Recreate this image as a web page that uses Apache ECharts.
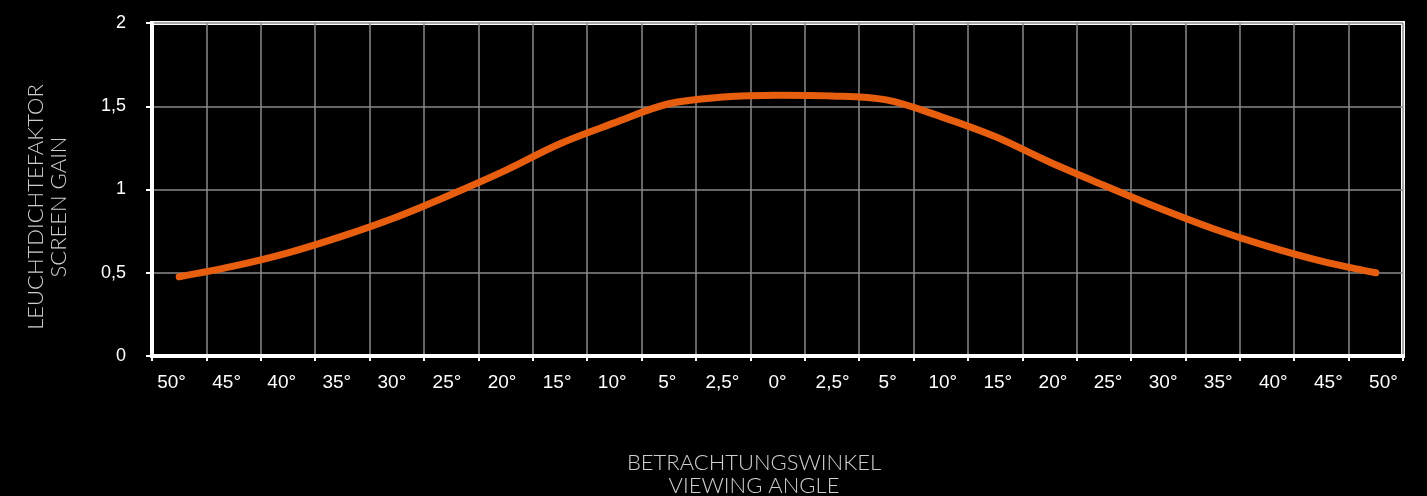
<!DOCTYPE html>
<html>
<head>
<meta charset="utf-8">
<script src="https://cdn.jsdelivr.net/npm/echarts@6/dist/echarts.min.js"></script>
<style>
  html, body { margin: 0; padding: 0; background: #000; }
  #main { width: 1427px; height: 496px; }
</style>
</head>
<body>
<div id="main"></div>
<script>
// viewing angles, left to right
const angles = ['50°', '45°', '40°', '35°', '30°', '25°', '20°', '15°', '10°', '5°', '2,5°', '0°',
  '2,5°', '5°', '10°', '15°', '20°', '25°', '30°', '35°', '40°', '45°', '50°']
// screen gain per angle
const gain = [0.476, 0.54, 0.62, 0.72, 0.835, 0.97, 1.115, 1.275, 1.40, 1.515, 1.555, 1.566,
  1.562, 1.538, 1.438, 1.318, 1.165, 1.025, 0.89, 0.766, 0.66, 0.57, 0.50]
const yTicks = [0, 0.5, 1, 1.5, 2]

const labelFont = 'Liberation Sans, Arial, sans-serif'
const nameFont = 'Lato, Open Sans, sans-serif'

let myChart = echarts.init(document.getElementById('main'))
myChart.setOption({
  backgroundColor: '#000',
  animation: false,
  grid: [
    { left: 152, right: 24, top: 23, bottom: 140, show: true, borderColor: '#fff', borderWidth: 4 },
    // only carries the angle labels
    { left: 144, right: 16, top: 23, bottom: 140 }
  ],
  xAxis: [
    {
      type: 'category',
      gridIndex: 0,
      data: angles,
      boundaryGap: true,
      axisLine: { lineStyle: { color: '#fff', width: 4 } },
      axisTick: { show: true, length: 5, lineStyle: { color: '#fff', width: 2 } },
      axisLabel: { show: false },
      splitLine: { show: true, lineStyle: { color: '#8a8a8a', width: 1.5 } }
    },
    {
      type: 'category',
      gridIndex: 1,
      data: angles,
      boundaryGap: true,
      axisLine: { show: false },
      axisTick: { show: false },
      splitLine: { show: false },
      axisLabel: { color: '#fff', fontSize: 19, fontFamily: labelFont, margin: 17, interval: 0 }
    }
  ],
  yAxis: [
    {
      type: 'value',
      gridIndex: 0,
      min: yTicks[0],
      max: yTicks[yTicks.length - 1],
      interval: 0.5,
      axisLine: { show: true, lineStyle: { color: '#fff', width: 4 } },
      axisTick: { show: true, length: 6, lineStyle: { color: '#fff', width: 2 } },
      axisLabel: {
        color: '#fff', fontSize: 18, fontFamily: labelFont, margin: 26,
        formatter: v => String(v).replace('.', ',')
      },
      splitLine: { show: true, lineStyle: { color: '#8a8a8a', width: 1.5 } }
    },
    { type: 'value', gridIndex: 1, show: false, min: 0, max: 2 }
  ],
  series: [{
    type: 'line',
    xAxisIndex: 0,
    yAxisIndex: 0,
    data: gain,
    smooth: 0.35,
    symbol: 'none',
    lineStyle: { color: '#e85e0f', width: 7, cap: 'round' }
  }],
  graphic: [
    {
      type: 'text',
      x: 47,
      y: 207,
      rotation: Math.PI / 2,
      style: {
        text: 'LEUCHTDICHTEFAKTOR\nSCREEN GAIN',
        fill: '#cfcfcf',
        font: '300 22px ' + nameFont,
        lineHeight: 23,
        align: 'center',
        verticalAlign: 'middle'
      }
    },
    {
      type: 'text',
      x: 754,
      y: 474,
      style: {
        text: 'BETRACHTUNGSWINKEL\nVIEWING ANGLE',
        fill: '#cfcfcf',
        font: '300 22px ' + nameFont,
        lineHeight: 23,
        align: 'center',
        verticalAlign: 'middle'
      }
    }
  ]
})
</script>
</body>
</html>
